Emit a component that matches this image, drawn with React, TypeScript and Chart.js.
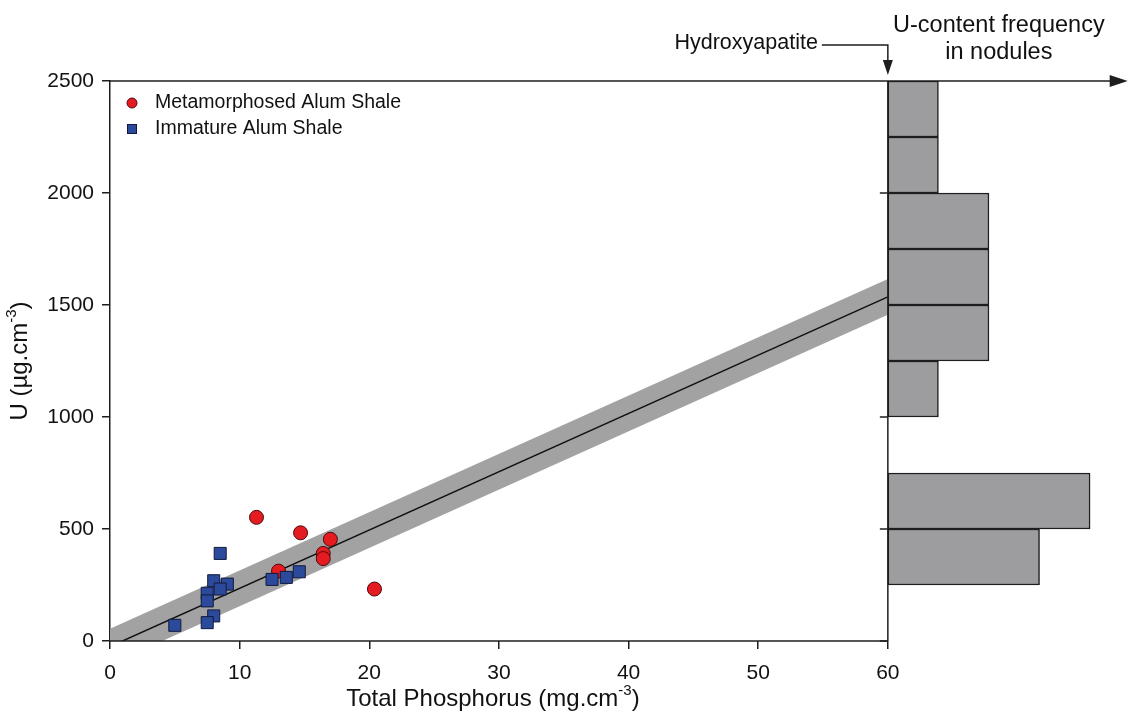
import React, { useEffect, useRef } from "react";
import { Chart, registerables } from "chart.js";

Chart.register(...registerables);

const FONT = "'Liberation Sans', Arial, Helvetica, sans-serif";

// ---- data ----
const xTickStep = 10;
const yTickStep = 500;

const metaLabel = "Metamorphosed Alum Shale";
const metaP = [11.3, 14.7, 17.0, 16.45, 16.45, 13.0, 20.4];
const metaU = [552, 483, 454, 391, 368, 312, 232];

const immLabel = "Immature Alum Shale";
const immP = [8.5, 8.0, 9.05, 8.5, 7.5, 7.5, 12.5, 13.6, 14.6, 8.0, 7.5, 5.0];
const immU = [391, 269, 254, 232, 213, 179, 275, 284, 309, 112, 82, 70];

// regression line and its band (end points)
const fitP = [0, 60];
const fitU = [-25, 1536];
const bandUpperU = [55, 1616];
const bandLowerU = [-105, 1456];

// U-content frequency histogram in nodules (bin centres, counts)
const histBinCenters = [375, 625, 1125, 1375, 1625, 1875, 2125, 2375];
const histCounts = [3, 4, 1, 2, 2, 2, 1, 1];
const histAxisTicks = [0, 500, 1000, 2000];

// ---- layout / style constants ----
const X_SPLIT = 60; // end of phosphorus axis, start of histogram
const X_MAX = 78.1; // phosphorus units spanned by whole plot width
const ARROW_END = 78.5; // tip of the top arrow, in phosphorus units
const COUNT_UNIT = 3.9; // phosphorus units per histogram count
const Y_MAX = 2500;

const AXIS = "#1e1e1e";
const RED = "#e51b22";
const RED_EDGE = "#4a0a0a";
const BLUE = "#2c4a9c";
const BLUE_EDGE = "#111a3d";
const BAND = "#a2a2a2";
const HIST_FILL = "#9d9d9f";

function drawLine(ctx: CanvasRenderingContext2D, pts: number[][]) {
  ctx.beginPath();
  ctx.moveTo(pts[0][0], pts[0][1]);
  for (let i = 1; i < pts.length; i++) ctx.lineTo(pts[i][0], pts[i][1]);
  ctx.stroke();
}
function drawTri(ctx: CanvasRenderingContext2D, pts: number[][]) {
  ctx.beginPath();
  ctx.moveTo(pts[0][0], pts[0][1]);
  ctx.lineTo(pts[1][0], pts[1][1]);
  ctx.lineTo(pts[2][0], pts[2][1]);
  ctx.closePath();
  ctx.fill();
}

const zeroPad = (s: any) => {
  s.paddingLeft = 0;
  s.paddingRight = 0;
  s.paddingTop = 0;
  s.paddingBottom = 0;
};

const decorPlugin = {
  id: "decor",
  afterDatasetsDraw(chart: any) {
    const { ctx, chartArea, scales } = chart;
    const xs = scales.x;
    const ys = scales.y;
    const { left, top, bottom } = chartArea;
    const right = xs.getPixelForValue(ARROW_END);
    const xSplit = xs.getPixelForValue(X_SPLIT);
    ctx.save();
    ctx.strokeStyle = AXIS;
    ctx.fillStyle = AXIS;
    ctx.lineWidth = 1.5;

    // bottom axis line (phosphorus)
    drawLine(ctx, [[left, bottom], [xSplit, bottom]]);
    // top line with arrow
    drawLine(ctx, [[left, top], [right - 12, top]]);
    drawTri(ctx, [[right, top], [right - 18, top - 6], [right - 18, top + 6]]);
    // histogram axis
    drawLine(ctx, [[xSplit, top], [xSplit, bottom]]);
    histAxisTicks.forEach((v) => {
      const y = ys.getPixelForValue(v);
      drawLine(ctx, [[xSplit - 8, y], [xSplit, y]]);
    });

    // Hydroxyapatite annotation
    ctx.font = `21.5px ${FONT}`;
    ctx.textAlign = "right";
    ctx.textBaseline = "middle";
    ctx.fillStyle = "#111";
    ctx.fillText("Hydroxyapatite", xSplit - 70, top - 38);
    ctx.fillStyle = AXIS;
    drawLine(ctx, [[xSplit - 66, top - 36], [xSplit, top - 36], [xSplit, top - 20]]);
    drawTri(ctx, [[xSplit, top - 6], [xSplit - 5, top - 21], [xSplit + 5, top - 21]]);

    // histogram title
    ctx.fillStyle = "#111";
    ctx.font = `23.5px ${FONT}`;
    ctx.textAlign = "center";
    ctx.textBaseline = "alphabetic";
    const hx = xSplit + 111;
    ctx.fillText("U-content frequency", hx, 32);
    ctx.fillText("in nodules", hx, 58.5);

    // legend
    const meta = chart.data.datasets[0];
    const imm = chart.data.datasets[1];
    const lx = left + 22;
    const r1 = top + 22;
    const r2 = top + 48;
    ctx.lineWidth = 1;
    ctx.beginPath();
    ctx.arc(lx, r1, 5, 0, Math.PI * 2);
    ctx.fillStyle = meta.backgroundColor;
    ctx.fill();
    ctx.strokeStyle = meta.borderColor;
    ctx.stroke();
    ctx.fillStyle = imm.backgroundColor;
    ctx.strokeStyle = imm.borderColor;
    ctx.fillRect(lx - 4.5, r2 - 4.5, 9, 9);
    ctx.strokeRect(lx - 4.5, r2 - 4.5, 9, 9);
    ctx.fillStyle = "#111";
    ctx.font = `19.5px ${FONT}`;
    ctx.textAlign = "left";
    ctx.textBaseline = "middle";
    ctx.fillText(meta.label, left + 45, r1);
    ctx.fillText(imm.label, left + 45, r2);

    // axis titles with superscript
    const drawSup = (base: string, sup: string, tail: string, cx: number, cy: number) => {
      ctx.font = `24px ${FONT}`;
      const w1 = ctx.measureText(base).width;
      const w3 = ctx.measureText(tail).width;
      ctx.font = `15px ${FONT}`;
      const w2 = ctx.measureText(sup).width;
      const total = w1 + w2 + w3;
      let x = cx - total / 2;
      ctx.textAlign = "left";
      ctx.textBaseline = "middle";
      ctx.font = `24px ${FONT}`;
      ctx.fillText(base, x, cy);
      x += w1;
      ctx.font = `15px ${FONT}`;
      ctx.fillText(sup, x, cy - 8);
      x += w2;
      ctx.font = `24px ${FONT}`;
      ctx.fillText(tail, x, cy);
    };
    ctx.fillStyle = "#111";
    drawSup("Total Phosphorus (mg.cm", "-3", ")", (left + xSplit) / 2 - 6, 699);
    ctx.save();
    ctx.translate(20, (top + bottom) / 2);
    ctx.rotate(-Math.PI / 2);
    drawSup("U (\u00b5g.cm", "-3", ")", 0, 0);
    ctx.restore();

    ctx.restore();
  },
};

export default function App() {
  const ref = useRef<HTMLCanvasElement>(null);
  useEffect(() => {
    const canvas = ref.current;
    if (!canvas) return;
    const tickFont = { family: FONT, size: 21 };
    const chart = new Chart(canvas, {
      type: "scatter",
      data: {
        datasets: [
          {
            type: "scatter",
            label: metaLabel,
            data: metaP.map((p, i) => ({ x: p, y: metaU[i] })),
            pointStyle: "circle",
            pointRadius: 7,
            backgroundColor: RED,
            borderColor: RED_EDGE,
            borderWidth: 1,
            order: 1,
            xAxisID: "x",
            yAxisID: "y",
          },
          {
            type: "scatter",
            label: immLabel,
            data: immP.map((p, i) => ({ x: p, y: immU[i] })),
            pointStyle: "rect",
            pointRadius: 8.5,
            backgroundColor: BLUE,
            borderColor: BLUE_EDGE,
            borderWidth: 1,
            order: 0,
            xAxisID: "x",
            yAxisID: "y",
          },
          {
            type: "line",
            label: "fit",
            data: fitP.map((p, i) => ({ x: p, y: fitU[i] })),
            borderColor: "#111",
            borderWidth: 1.5,
            pointRadius: 0,
            fill: false,
            order: 2,
            xAxisID: "x",
            yAxisID: "y",
          },
          {
            type: "line",
            label: "bandUpper",
            data: fitP.map((p, i) => ({ x: p, y: bandUpperU[i] })),
            borderColor: "rgba(0,0,0,0)",
            borderWidth: 0,
            pointRadius: 0,
            fill: false,
            order: 3,
            xAxisID: "x",
            yAxisID: "y",
          },
          {
            type: "line",
            label: "bandLower",
            data: fitP.map((p, i) => ({ x: p, y: bandLowerU[i] })),
            borderColor: "rgba(0,0,0,0)",
            borderWidth: 0,
            pointRadius: 0,
            fill: "-1",
            backgroundColor: BAND,
            order: 4,
            xAxisID: "x",
            yAxisID: "y",
          },
          {
            type: "bar",
            label: "hist",
            indexAxis: "y",
            grouped: false,
            data: histBinCenters.map((c, i) => ({ x: histCounts[i], y: c })),
            backgroundColor: HIST_FILL,
            borderColor: AXIS,
            borderWidth: 1.5,
            borderSkipped: false,
            barPercentage: 1,
            categoryPercentage: 1,
            order: 5,
            xAxisID: "xh",
            yAxisID: "y",
          },
        ] as any,
      },
      options: {
        responsive: false,
        animation: false,
        devicePixelRatio: 1,
        layout: { padding: { top: 81, right: 4, bottom: 0, left: 0 } },
        plugins: {
          legend: { display: false },
          tooltip: { enabled: false },
        },
        scales: {
          x: {
            type: "linear",
            axis: "x",
            position: "bottom",
            min: 0,
            max: X_MAX,
            border: { display: false },
            grid: {
              drawOnChartArea: false,
              drawTicks: true,
              tickLength: 8,
              color: AXIS,
              lineWidth: 1.5,
            },
            ticks: { stepSize: xTickStep, font: tickFont, color: "#111", padding: 12 },
            afterBuildTicks: (s: any) => {
              s.ticks = s.ticks.filter((t: any) => t.value <= X_SPLIT);
            },
            afterFit: (s: any) => {
              s.height = 82;
              zeroPad(s);
            },
          },
          xh: {
            type: "linear",
            axis: "x",
            position: "bottom",
            display: false,
            min: -X_SPLIT / COUNT_UNIT,
            max: (X_MAX - X_SPLIT) / COUNT_UNIT,
            offset: false,
            afterFit: (s: any) => {
              s.height = 0;
              zeroPad(s);
            },
          },
          y: {
            type: "linear",
            axis: "y",
            position: "left",
            min: 0,
            max: Y_MAX,
            offset: false,
            border: { display: true, color: AXIS, width: 1.5 },
            grid: {
              offset: false,
              drawOnChartArea: false,
              drawTicks: true,
              tickLength: 8,
              color: AXIS,
              lineWidth: 1.5,
            },
            ticks: {
              stepSize: yTickStep,
              font: tickFont,
              color: "#111",
              padding: 8,
              callback: (v: any) => String(v),
            },
            afterFit: (s: any) => {
              s.width = 110;
              zeroPad(s);
            },
          },
        },
      } as any,
      plugins: [decorPlugin],
    });
    return () => chart.destroy();
  }, []);
  return (
    <div style={{ position: "fixed", left: 0, top: 0, width: 1132, height: 723, background: "#fff" }}>
      <canvas ref={ref} width={1132} height={723} style={{ width: 1132, height: 723, display: "block" }} />
    </div>
  );
}
